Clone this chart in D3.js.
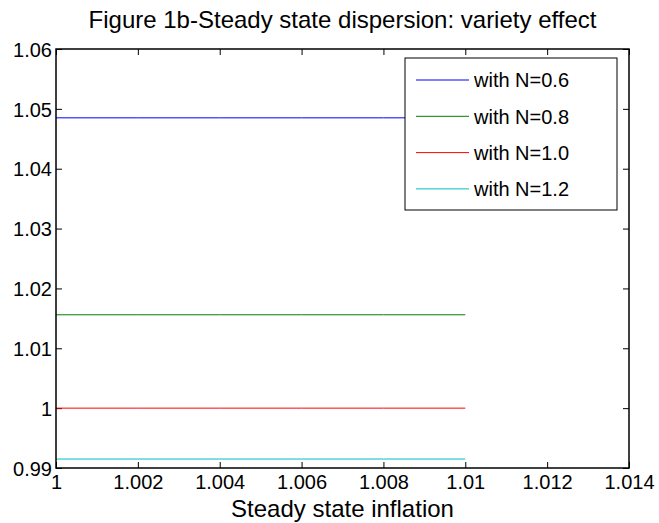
<!DOCTYPE html>
<html>
<head>
<meta charset="utf-8">
<script src="https://cdn.jsdelivr.net/npm/d3@7"></script>
<style>
  body { margin: 0; background: #fff; }
  svg { font-family: "Liberation Sans", Arial, sans-serif; }
</style>
</head>
<body>
<svg id="chart" width="659" height="523"></svg>
<script>
// data
var inflation = [1, 1.002, 1.004, 1.006, 1.008, 1.01];
var seriesNames = ["with N=0.6", "with N=0.8", "with N=1.0", "with N=1.2"];
var seriesColors = ["#0000ff", "#008000", "#ff0000", "#00bfbf"];
var seriesLevels = [1.0485, 1.0156, 1.0, 0.9915];
var xTicks = [1, 1.002, 1.004, 1.006, 1.008, 1.01, 1.012, 1.014];
var yTicks = [0.99, 1, 1.01, 1.02, 1.03, 1.04, 1.05, 1.06];

var margin = {top: 49, right: 30, bottom: 55, left: 56},
    w = 659 - margin.left - margin.right,
    h = 523 - margin.top - margin.bottom;

var svg = d3.select("#chart");
var g = svg.append("g")
    .attr("transform", "translate(" + margin.left + "," + margin.top + ")");

var x = d3.scaleLinear().domain([1, 1.014]).range([0, w]);
var y = d3.scaleLinear().domain([0.99, 1.06]).range([h, 0]);

var fmt = function(d) { return d3.format("")(+d.toFixed(3)); };

// inward ticks, MATLAB style
var gx = g.append("g").attr("transform", "translate(0," + h + ")")
    .call(d3.axisBottom(x).tickValues(xTicks).tickSize(-6).tickPadding(6).tickFormat(fmt));
var gy = g.append("g")
    .call(d3.axisLeft(y).tickValues(yTicks).tickSize(-6).tickPadding(4).tickFormat(fmt));
var gt = g.append("g")
    .call(d3.axisTop(x).tickValues(xTicks).tickSize(-6).tickFormat(""));
var gr = g.append("g").attr("transform", "translate(" + w + ",0)")
    .call(d3.axisRight(y).tickValues(yTicks).tickSize(-6).tickFormat(""));

[gx, gy, gt, gr].forEach(function(a) {
  a.select(".domain").remove();
  a.selectAll(".tick line").attr("stroke", "#000");
  a.selectAll(".tick text").attr("fill", "#000").style("font-size", "20px")
    .style("font-family", "'Liberation Sans', Arial, sans-serif");
});
gy.selectAll(".tick text").attr("dy", "0.36em");
gx.selectAll(".tick text").attr("dy", "0.75em");

var line = d3.line()
    .x(function(d) { return x(d[0]); })
    .y(function(d) { return y(d[1]); });

seriesLevels.forEach(function(lv, i) {
  var pts = inflation.map(function(v) { return [v, lv]; });
  g.append("path")
    .datum(pts)
    .attr("fill", "none")
    .attr("stroke", seriesColors[i])
    .attr("stroke-width", 1)
    .attr("d", line);
});

g.append("rect")
    .attr("width", w).attr("height", h)
    .attr("fill", "none").attr("stroke", "#000").attr("stroke-width", 1.5);

// legend
var lg = svg.append("g").attr("transform", "translate(405,58)");
lg.append("rect")
    .attr("width", 212).attr("height", 152)
    .attr("fill", "#fff").attr("stroke", "#000").attr("stroke-width", 1);
seriesNames.forEach(function(nm, i) {
  var yy = 22 + i * 36.3;
  lg.append("line")
    .attr("x1", 11).attr("x2", 64).attr("y1", yy).attr("y2", yy)
    .attr("stroke", seriesColors[i]).attr("stroke-width", 1);
  lg.append("text")
    .attr("x", 69).attr("y", yy).attr("dy", "0.36em")
    .style("font-size", "20px").attr("fill", "#000")
    .text(nm);
});

svg.append("text")
    .attr("x", margin.left + w / 2).attr("y", 28)
    .attr("text-anchor", "middle").style("font-size", "24px")
    .text("Figure 1b-Steady state dispersion: variety effect");

svg.append("text")
    .attr("x", margin.left + w / 2).attr("y", 517)
    .attr("text-anchor", "middle").style("font-size", "24px")
    .text("Steady state inflation");
</script>
</body>
</html>
